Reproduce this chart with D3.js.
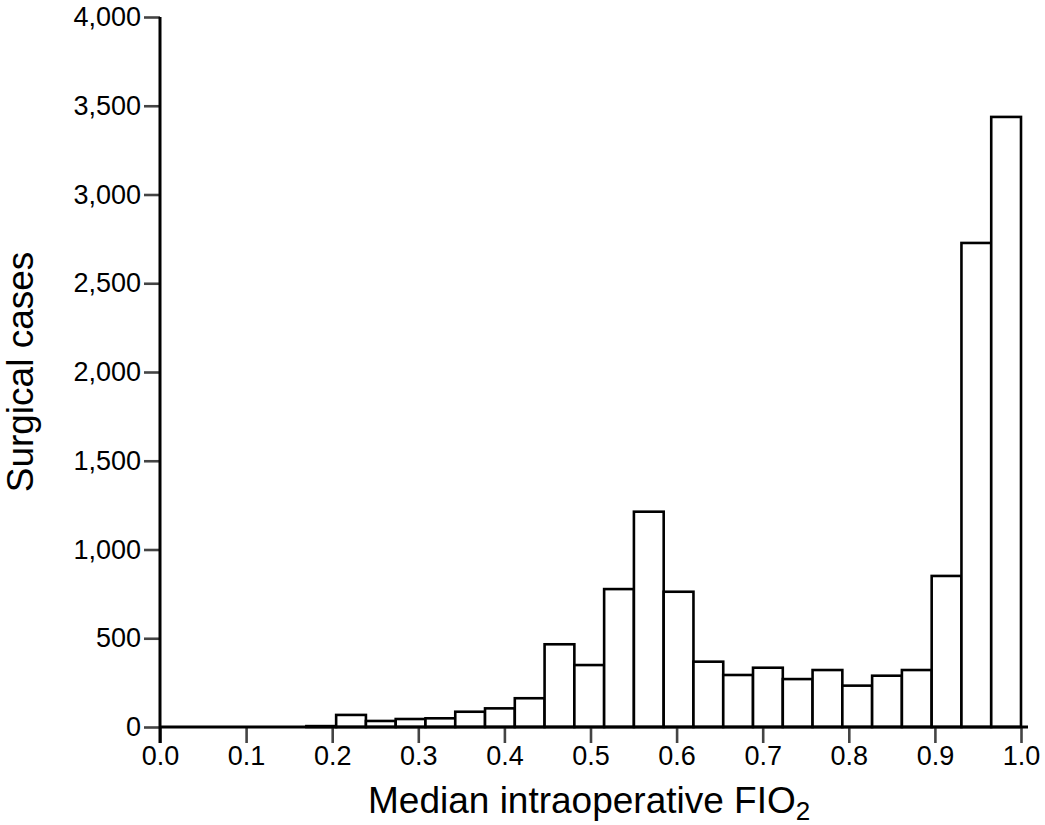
<!DOCTYPE html>
<html>
<head>
<meta charset="utf-8">
<script src="https://cdn.jsdelivr.net/npm/d3@7"></script>
<style>
  body { margin: 0; background: #fff; }
  text { font-family: "Liberation Sans", Arial, Helvetica, sans-serif; }
</style>
</head>
<body>
<script>
// histogram of median intraoperative FIO2, 24 equal bins from 0.17 to 1.0
var binStart = 0.17, binEnd = 1.0;
var counts = [5, 68, 34, 45, 49, 86, 105, 162, 466, 349, 777, 1213, 762, 368, 293,
              334, 270, 321, 233, 289, 321, 851, 2727, 3437];
var xTicks = [0, 0.1, 0.2, 0.3, 0.4, 0.5, 0.6, 0.7, 0.8, 0.9, 1.0];
var yTicks = [0, 500, 1000, 1500, 2000, 2500, 3000, 3500, 4000];

var binWidth = (binEnd - binStart) / counts.length;
var bins = counts.map(function (c, i) {
    return { x0: binStart + i * binWidth, x1: binStart + (i + 1) * binWidth, n: c };
});

var mLeft = 160, mTop = 17, w = 861, h = 710;

var svg = d3.select('body').append('svg')
    .attr('width', 1045)
    .attr('height', 825);

var xscale = d3.scaleLinear().domain([0, 1]).range([0, w]);
var yscale = d3.scaleLinear().domain([0, 4000]).range([h, 0]);

var g = svg.append('g').attr('transform', 'translate(' + mLeft + ',' + mTop + ')');

//bars
g.selectAll('rect')
    .data(bins)
    .enter().append('rect')
        .attr('x', function (d) { return xscale(d.x0); })
        .attr('y', function (d) { return yscale(d.n); })
        .attr('width', function (d) { return xscale(d.x1) - xscale(d.x0); })
        .attr('height', function (d) { return yscale(0) - yscale(d.n); })
        .style('fill', '#fff')
        .style('stroke', '#000')
        .style('stroke-width', 2.6);

//x axis
var xaxis = d3.axisBottom(xscale)
    .tickValues(xTicks)
    .tickFormat(d3.format('.1f'))
    .tickSize(16)
    .tickSizeOuter(0)
    .tickPadding(3);
var gx = g.append('g')
    .attr('transform', 'translate(0,' + h + ')')
    .call(xaxis);
gx.select('.domain').remove();
gx.append('line')
    .attr('x1', 0).attr('x2', w + 7)
    .attr('y1', 0).attr('y2', 0)
    .style('stroke', '#000').style('stroke-width', 3);

//y axis
var yaxis = d3.axisLeft(yscale)
    .tickValues(yTicks)
    .tickFormat(d3.format(','))
    .tickSize(16)
    .tickSizeOuter(0)
    .tickPadding(3);
var gy = g.append('g').call(yaxis);
gy.select('.domain').remove();
gy.append('line')
    .attr('x1', 0).attr('x2', 0)
    .attr('y1', 0).attr('y2', h + 16)
    .style('stroke', '#000').style('stroke-width', 3);

[gx, gy].forEach(function (a) {
    a.selectAll('.tick line').style('stroke', '#444').style('stroke-width', 2.6);
    a.selectAll('.tick text')
        .attr('font-family', '"Liberation Sans", Arial, sans-serif')
        .attr('font-size', '27px')
        .style('fill', '#000');
});

//axis titles
svg.append('text')
    .attr('transform', 'translate(33,' + 372 + ') rotate(-90)')
    .attr('text-anchor', 'middle')
    .attr('font-size', '37px')
    .text('Surgical cases');

var xt = svg.append('text')
    .attr('x', 368)
    .attr('y', 813)
    .attr('font-size', '37px')
    .text('Median intraoperative FIO');
xt.append('tspan')
    .attr('font-size', '26px')
    .attr('dy', 7)
    .text('2');
</script>
</body>
</html>
